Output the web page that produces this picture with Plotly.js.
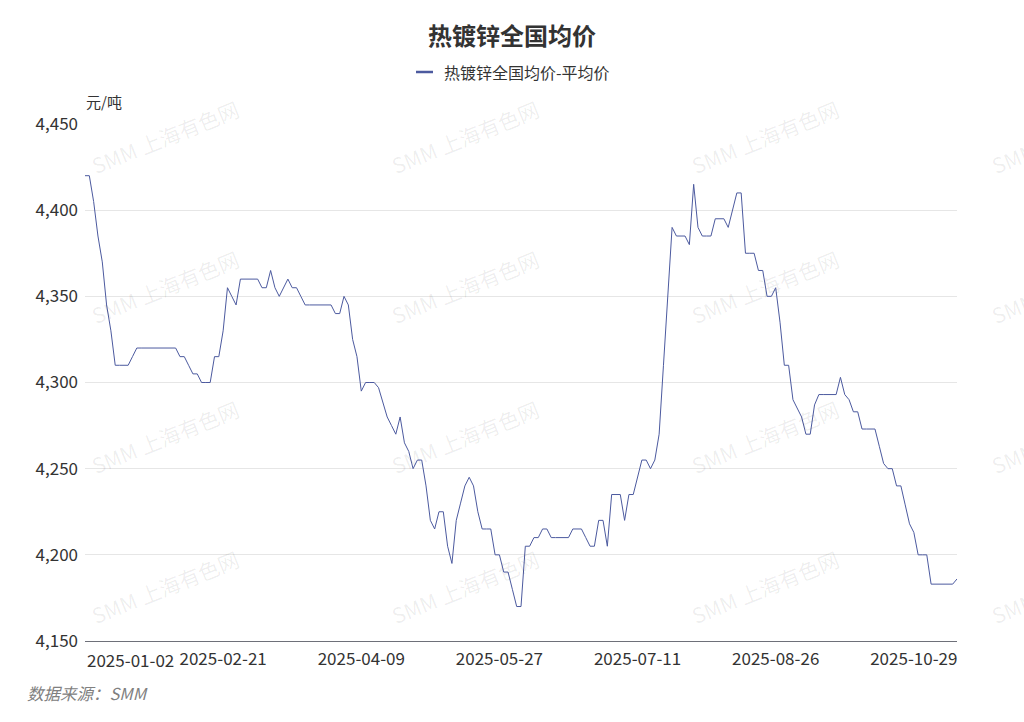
<!DOCTYPE html>
<html>
<head>
<meta charset="utf-8">
<script src="https://cdn.plot.ly/plotly-3.0.1.min.js"></script>
<style>
  html, body { margin: 0; padding: 0; background: #fff; }
  #chart { width: 1024px; height: 722px; }
</style>
</head>
<body>
<div id="chart"></div>
<script>
// ---- data ----
const dates = [
  "2025-01-02","2025-01-03","2025-01-06","2025-01-07","2025-01-08","2025-01-09","2025-01-10","2025-01-13","2025-01-14","2025-01-15",
  "2025-01-16","2025-01-17","2025-01-20","2025-01-21","2025-01-22","2025-01-23","2025-01-24","2025-01-26","2025-01-27","2025-02-05",
  "2025-02-06","2025-02-07","2025-02-08","2025-02-10","2025-02-11","2025-02-12","2025-02-13","2025-02-14","2025-02-17","2025-02-18",
  "2025-02-19","2025-02-20","2025-02-21","2025-02-24","2025-02-25","2025-02-26","2025-02-27","2025-02-28","2025-03-03","2025-03-04",
  "2025-03-05","2025-03-06","2025-03-07","2025-03-10","2025-03-11","2025-03-12","2025-03-13","2025-03-14","2025-03-17","2025-03-18",
  "2025-03-19","2025-03-20","2025-03-21","2025-03-24","2025-03-25","2025-03-26","2025-03-27","2025-03-28","2025-03-31","2025-04-01",
  "2025-04-02","2025-04-03","2025-04-07","2025-04-08","2025-04-09","2025-04-10","2025-04-11","2025-04-14","2025-04-15","2025-04-16",
  "2025-04-17","2025-04-18","2025-04-21","2025-04-22","2025-04-23","2025-04-24","2025-04-25","2025-04-27","2025-04-28","2025-04-29",
  "2025-04-30","2025-05-06","2025-05-07","2025-05-08","2025-05-09","2025-05-12","2025-05-13","2025-05-14","2025-05-15","2025-05-16",
  "2025-05-19","2025-05-20","2025-05-21","2025-05-22","2025-05-23","2025-05-26","2025-05-27","2025-05-28","2025-05-29","2025-05-30",
  "2025-06-03","2025-06-04","2025-06-05","2025-06-06","2025-06-09","2025-06-10","2025-06-11","2025-06-12","2025-06-13","2025-06-16",
  "2025-06-17","2025-06-18","2025-06-19","2025-06-20","2025-06-23","2025-06-24","2025-06-25","2025-06-26","2025-06-27","2025-06-30",
  "2025-07-01","2025-07-02","2025-07-03","2025-07-04","2025-07-07","2025-07-08","2025-07-09","2025-07-10","2025-07-11","2025-07-14",
  "2025-07-15","2025-07-16","2025-07-17","2025-07-18","2025-07-21","2025-07-22","2025-07-23","2025-07-24","2025-07-25","2025-07-28",
  "2025-07-29","2025-07-30","2025-07-31","2025-08-01","2025-08-04","2025-08-05","2025-08-06","2025-08-07","2025-08-08","2025-08-11",
  "2025-08-12","2025-08-13","2025-08-14","2025-08-15","2025-08-18","2025-08-19","2025-08-20","2025-08-21","2025-08-22","2025-08-25",
  "2025-08-26","2025-08-27","2025-08-28","2025-08-29","2025-09-01","2025-09-02","2025-09-03","2025-09-04","2025-09-05","2025-09-08",
  "2025-09-09","2025-09-10","2025-09-11","2025-09-12","2025-09-15","2025-09-16","2025-09-17","2025-09-18","2025-09-19","2025-09-22",
  "2025-09-23","2025-09-24","2025-09-25","2025-09-26","2025-09-29","2025-09-30","2025-10-21","2025-10-22","2025-10-23","2025-10-24",
  "2025-10-27","2025-10-28","2025-10-29","2025-10-30","2025-10-31","2025-11-03","2025-11-04","2025-11-05","2025-11-06","2025-11-07",
  "2025-11-10","2025-11-11","2025-11-12"
];
const avgPrice = [
  4420,4420,4405,4385,4370,4345,4330,4310,4310,4310,
  4310,4315,4320,4320,4320,4320,4320,4320,4320,4320,
  4320,4320,4315,4315,4310,4305,4305,4300,4300,4300,
  4315,4315,4330,4355,4350,4345,4360,4360,4360,4360,
  4360,4355,4355,4365,4355,4350,4355,4360,4355,4355,
  4350,4345,4345,4345,4345,4345,4345,4345,4340,4340,
  4350,4345,4325,4315,4295,4300,4300,4300,4297,4288,
  4280,4275,4270,4280,4265,4260,4250,4255,4255,4240,
  4220,4215,4225,4225,4205,4195,4220,4230,4240,4245,
  4240,4225,4215,4215,4215,4200,4200,4190,4190,4180,
  4170,4170,4205,4205,4210,4210,4215,4215,4210,4210,
  4210,4210,4210,4215,4215,4215,4210,4205,4205,4220,
  4220,4205,4235,4235,4235,4220,4235,4235,4245,4255,
  4255,4250,4255,4270,4310,4350,4390,4385,4385,4385,
  4380,4415,4390,4385,4385,4385,4395,4395,4395,4390,
  4400,4410,4410,4375,4375,4375,4365,4365,4350,4350,
  4355,4335,4310,4310,4290,4285,4280,4270,4270,4287,
  4293,4293,4293,4293,4293,4303,4293,4290,4283,4283,
  4273,4273,4273,4273,4263,4253,4250,4250,4240,4240,
  4229,4218,4213,4200,4200,4200,4183,4183,4183,4183,
  4183,4183,4186
];
const tickDates = ["2025-02-21","2025-04-09","2025-05-27","2025-07-11","2025-08-26","2025-10-29"];
const firstTick = "2025-01-02";
const yTicks = [4150,4200,4250,4300,4350,4400,4450];
const chartTitle = "热镀锌全国均价";
const seriesName = "热镀锌全国均价-平均价";
const unitLabel = "元/吨";
const sourceLabel = "数据来源：SMM";
const watermarkText = "SMM 上海有色网";

// ---- layout helpers (pixel -> paper) ----
const W = 1024, H = 722;
const M = {l: 85, r: 67, t: 124, b: 81};
const PW = W - M.l - M.r, PH = H - M.t - M.b;
const px = x => (x - M.l) / PW;
const py = y => (H - M.b - y) / PH;
const FONT = '"Noto Sans CJK SC", "Noto Sans", sans-serif';
const LINE_COLOR = '#4c5a9f';

const annotations = [];
// watermark grid
[165, 465, 765, 1065].forEach(cx => {
  [137, 287, 437, 587].forEach(cy => {
    annotations.push({
      text: watermarkText, xref: 'paper', yref: 'paper',
      x: px(cx), y: py(cy), xanchor: 'center', yanchor: 'middle',
      showarrow: false, textangle: -22,
      font: {family: FONT, size: 21, color: 'rgba(0,0,0,0.07)'}
    });
  });
});
// unit label
annotations.push({
  text: unitLabel, xref: 'paper', yref: 'paper', x: px(84), y: py(101),
  xanchor: 'left', yanchor: 'middle', showarrow: false,
  font: {family: FONT, size: 15, color: '#333'}
});
// first category label (left aligned)
annotations.push({
  text: firstTick, xref: 'x', yref: 'paper', x: firstTick, y: py(659),
  xanchor: 'left', yanchor: 'middle', showarrow: false,
  font: {family: FONT, size: 17, color: '#333'}
});
// legend text
annotations.push({
  text: seriesName, xref: 'paper', yref: 'paper', x: px(442), y: py(72),
  xanchor: 'left', yanchor: 'middle', showarrow: false,
  font: {family: FONT, size: 16, color: '#333'}
});
// source
annotations.push({
  text: sourceLabel, xref: 'paper', yref: 'paper', x: px(25), y: py(693),
  xanchor: 'left', yanchor: 'middle', showarrow: false,
  font: {family: FONT, size: 16.5, color: '#808080', style: 'italic'}
});

const shapes = [{
  type: 'line', xref: 'paper', yref: 'paper',
  x0: px(416), x1: px(433), y0: py(72), y1: py(72),
  line: {color: LINE_COLOR, width: 2.5}
}];

const trace = {
  type: 'scatter', mode: 'lines', name: seriesName,
  x: dates, y: avgPrice,
  line: {color: LINE_COLOR, width: 1},
  hoverinfo: 'x+y', showlegend: false
};

const layout = {
  width: W, height: H,
  margin: M,
  paper_bgcolor: '#fff', plot_bgcolor: '#fff',
  font: {family: FONT, color: '#333'},
  title: {
    text: '<b>' + chartTitle + '</b>', x: 0.5, xanchor: 'center',
    xref: 'container', yref: 'container', y: 1 - 37 / H, yanchor: 'middle',
    font: {family: FONT, size: 24, color: '#333'}
  },
  showlegend: false,
  xaxis: {
    type: 'category', range: [0, dates.length - 1],
    tickmode: 'array', tickvals: tickDates, ticktext: tickDates,
    showgrid: false, zeroline: false,
    showline: true, linecolor: '#6e7079', linewidth: 1,
    ticks: '', ticklabelstandoff: 3,
    tickfont: {family: FONT, size: 17, color: '#333'},
    fixedrange: true
  },
  yaxis: {
    range: [4150, 4450], tickmode: 'array', tickvals: yTicks,
    tickformat: ',d', showgrid: true, gridcolor: '#e6e6e6', gridwidth: 1,
    zeroline: false, showline: false, ticks: '', ticklabelstandoff: 6,
    tickfont: {family: FONT, size: 17, color: '#333'},
    fixedrange: true
  },
  shapes: shapes,
  annotations: annotations
};

Plotly.newPlot('chart', [trace], layout, {displayModeBar: false});
</script>
</body>
</html>
